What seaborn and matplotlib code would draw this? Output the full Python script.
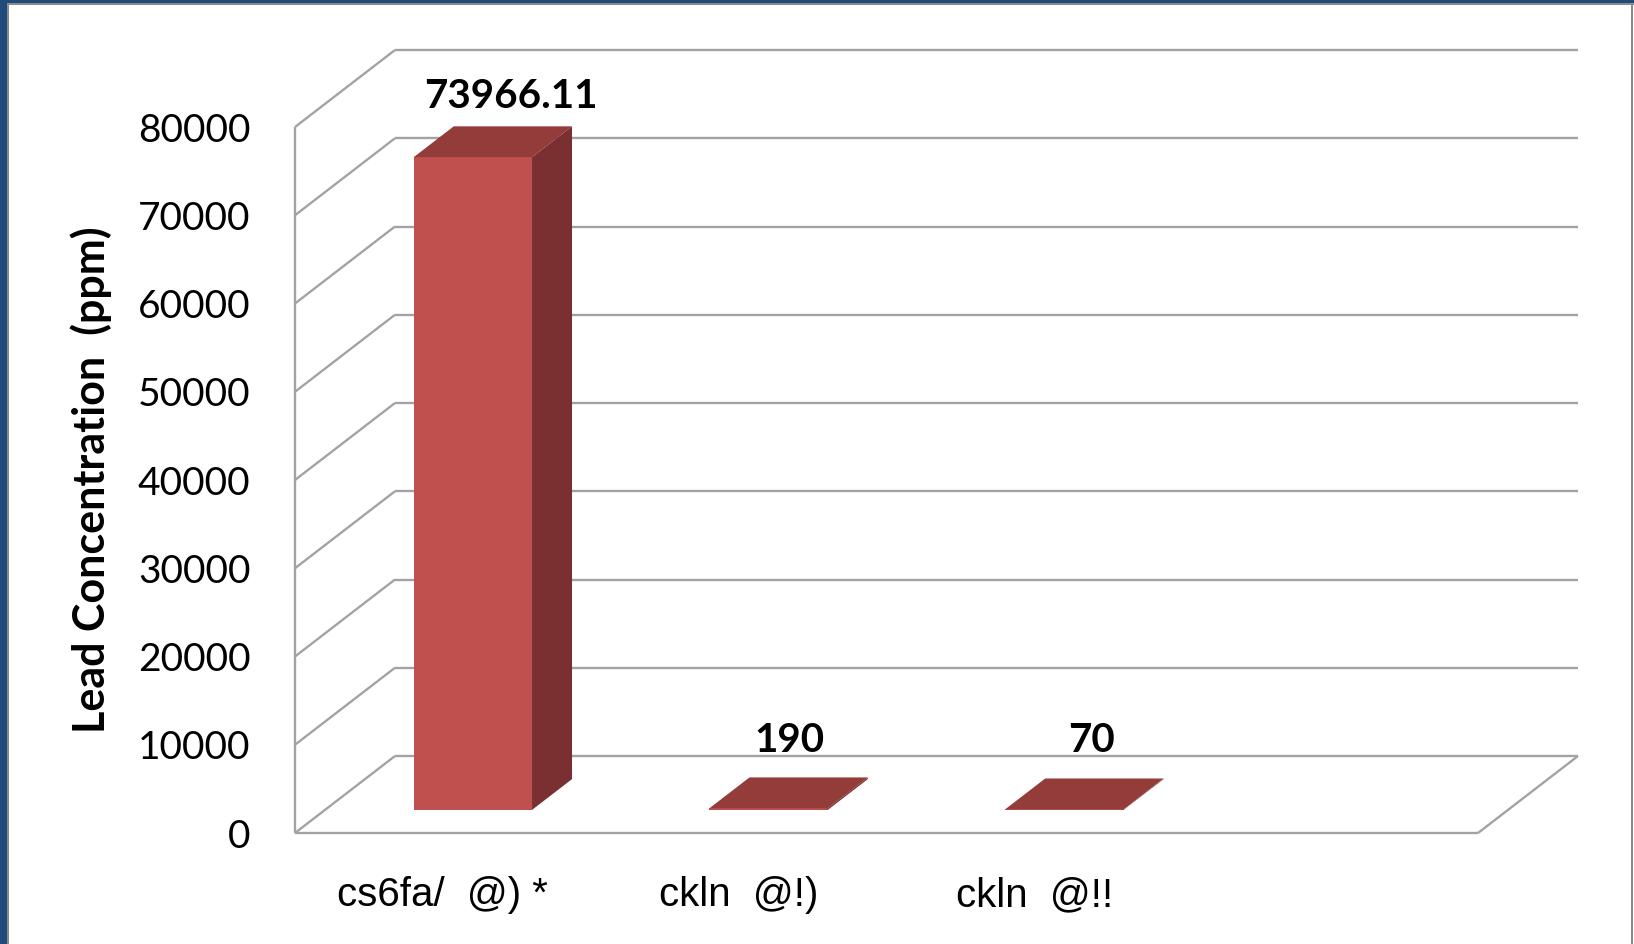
import numpy as np
import pandas as pd
import seaborn as sns
import matplotlib
matplotlib.use("Agg")
import matplotlib.pyplot as plt
from matplotlib.patches import Polygon, Rectangle
from matplotlib import font_manager

# ---- data -------------------------------------------------------------
sample_labels = ["cs6fa/  @) *", "ckln  @!)", "ckln  @!!"]
lead_ppm = [73966.11, 190, 70]
value_text = ["73966.11", "190", "70"]
y_ticks = [0, 10000, 20000, 30000, 40000, 50000, 60000, 70000, 80000]

# ---- styling ----------------------------------------------------------
sns.set_theme(style="white")
installed = {f.name for f in font_manager.fontManager.ttflist}
main_font = "Lato" if "Lato" in installed else "DejaVu Sans"
narrow_font = next((f for f in ["Liberation Sans Narrow", "Liberation Sans", "DejaVu Sans"]
                    if f in installed), "DejaVu Sans")
plt.rcParams["font.family"] = [main_font, "DejaVu Sans"]

FRONT = "#c0504d"
TOP = "#943c3a"
SIDE = "#7a3030"
GRID = "#a3a3a3"

W, H = 1634, 944
fig = plt.figure(figsize=(W / 100, H / 100), dpi=100)
fig.patch.set_facecolor("white")

# pixel geometry of the pseudo-3D box
slot_px = 295.75                 # width of one category along the front edge
y_px_per_unit = 706 / 80000      # front wall scale
depth_px = (100, 77)             # offset from front plane to back wall
n_slots = 4
DX = depth_px[0] / slot_px
DY = depth_px[1] / y_px_per_unit
x_lo, x_hi = -0.5, n_slots - 0.5
y_top = 80000

left_px, front_base_px = 295, 833
ax_w = (n_slots + DX) * slot_px
ax_h = (y_top + DY) * y_px_per_unit
ax = fig.add_axes([left_px / W, (H - front_base_px) / H, ax_w / W, ax_h / H])

# bars (front faces) drawn by seaborn
df = pd.DataFrame({"sample": sample_labels, "lead": lead_ppm})
sns.barplot(data=df, x="sample", y="lead", ax=ax, width=0.4, color=FRONT,
            saturation=1, edgecolor="none", linewidth=0, zorder=5)

# walls and grid
line_kw = dict(color=GRID, lw=1.7, solid_capstyle="butt", zorder=1, clip_on=False)
for v in y_ticks:
    ax.plot([x_lo, x_lo + DX], [v, v + DY], **line_kw)            # side wall
    ax.plot([x_lo + DX, x_hi + DX], [v + DY, v + DY], **line_kw)  # back wall
ax.plot([x_lo, x_lo], [0, y_top], **line_kw)                      # front-left edge
ax.plot([x_lo, x_hi], [0, 0], **line_kw)                          # floor front edge
ax.plot([x_hi, x_hi + DX], [0, DY], **line_kw)                    # floor right edge

# depth of the bars within the box
f0, f1 = 0.3, 0.7
ddx, ddy = (f1 - f0) * DX, (f1 - f0) * DY
label_nudge_px = [(18, 30), (1, 37), (7, 38)]

bars = [p for p in ax.patches if isinstance(p, Rectangle)]
for i, (bar, val) in enumerate(zip(bars, lead_ppm)):
    x, w, h = bar.get_x(), bar.get_width(), bar.get_height()
    x0, y0 = x + f0 * DX, f0 * DY
    bar.set_x(x0)
    bar.set_y(y0)
    top = y0 + h
    ax.add_patch(Polygon([(x0, top), (x0 + w, top), (x0 + w + ddx, top + ddy),
                          (x0 + ddx, top + ddy)], closed=True, facecolor=TOP,
                         edgecolor="none", zorder=6))
    ax.add_patch(Polygon([(x0 + w, y0), (x0 + w, top), (x0 + w + ddx, top + ddy),
                          (x0 + w + ddx, y0 + ddy)], closed=True, facecolor=SIDE,
                         edgecolor="none", zorder=6))
    cx = x + w / 2 + 0.5 * DX
    ax.annotate(value_text[i], xy=(cx, top + ddy), xytext=label_nudge_px[i],
                textcoords="offset pixels", ha="center", va="center",
                fontsize=29, fontweight="bold", color="black", zorder=8)

# axes limits fixed after seaborn has set its categorical range
ax.set_xlim(x_lo, x_hi + DX)
ax.set_ylim(0, y_top + DY)

# axes decoration
for s in ax.spines.values():
    s.set_visible(False)
ax.set_yticks(y_ticks)
ax.set_yticklabels([str(t) for t in y_ticks], fontsize=28, color="black")
ax.tick_params(axis="y", length=0, pad=32)
ax.tick_params(axis="x", length=0, pad=31)
for t in ax.get_xticklabels():
    t.set_fontfamily([narrow_font, "DejaVu Sans"])
    t.set_fontsize(29)
    t.set_color("black")
ax.set_xlabel("")
ax.set_ylabel("Lead Concentration  (ppm)", fontsize=31, fontweight="bold", color="black")
ax.yaxis.label.set_va("center")
ax.yaxis.set_label_coords((90.7 - left_px) / ax_w, 40000 / (y_top + DY))
ax.set_facecolor("none")

# slide frame
blue = "#1f4a7c"
fig.add_artist(Rectangle((0, 0), 7.3 / W, 1, transform=fig.transFigure,
                         facecolor=blue, edgecolor="none"))
fig.add_artist(Rectangle((0, 1 - 3.2 / H), 1, 3.2 / H, transform=fig.transFigure,
                         facecolor=blue, edgecolor="none"))
fig.add_artist(Rectangle((7.3 / W, 0), 1.6 / W, 1 - 3.2 / H, transform=fig.transFigure,
                         facecolor="#8a8a8a", edgecolor="none"))
fig.add_artist(Rectangle((7.3 / W, 1 - 4.8 / H), 1 - 7.3 / W, 1.6 / H,
                         transform=fig.transFigure, facecolor="#8a8a8a", edgecolor="none"))
fig.add_artist(Rectangle((1 - 2.6 / W, 0), 1.6 / W, 1 - 3.2 / H, transform=fig.transFigure,
                         facecolor="#8a8a8a", edgecolor="none"))

fig.savefig("out.png", dpi=100, facecolor="white")
